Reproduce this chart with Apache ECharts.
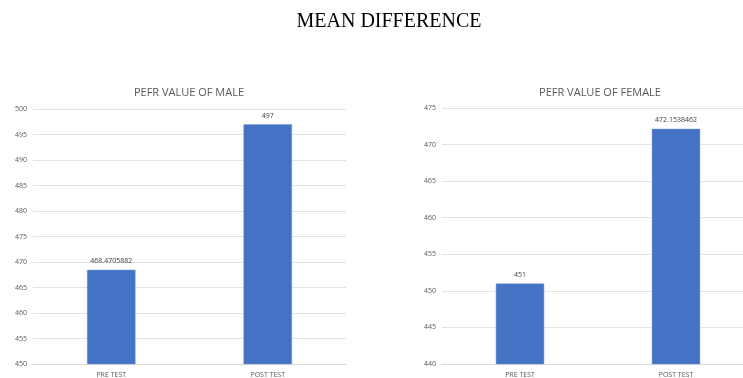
<!DOCTYPE html>
<html>
<head>
<meta charset="utf-8">
<script src="https://cdn.jsdelivr.net/npm/echarts@6/dist/echarts.min.js"></script>
<style>
  html, body { margin: 0; padding: 0; background: #fff; overflow: hidden; }
  /* canvas a bit wider than the window: the right plot runs past the edge in the original */
  #chart { width: 760px; height: 378px; }
</style>
</head>
<body>
<div id="chart"></div>
<script>
var categories = ['PRE TEST', 'POST TEST']
var maleValues = [468.4705882, 497]
var femaleValues = [451, 472.1538462]
var maleAxis = { min: 450, max: 500, interval: 5 }
var femaleAxis = { min: 440, max: 475, interval: 5 }

var grey = '#595959'
var barColor = '#4472C4'

function xAxisFor (idx) {
  return {
    type: 'category',
    gridIndex: idx,
    data: categories,
    axisLine: { lineStyle: { color: '#d9d9d9' } },
    axisTick: { show: false },
    axisLabel: { color: grey, fontSize: 7, fontFamily: 'Open Sans', margin: 7 }
  }
}

function yAxisFor (idx, range) {
  return {
    type: 'value',
    gridIndex: idx,
    min: range.min,
    max: range.max,
    interval: range.interval,
    axisLine: { show: false },
    axisTick: { show: false },
    splitLine: { lineStyle: { color: '#e3e3e3' } },
    axisLabel: { color: grey, fontSize: 7, fontFamily: 'Open Sans', margin: 6 }
  }
}

function barSeries (idx, values) {
  return {
    type: 'bar',
    xAxisIndex: idx,
    yAxisIndex: idx,
    data: values,
    barWidth: '31%',
    itemStyle: { color: barColor, borderColor: '#7a9bd6', borderWidth: 0.5 },
    label: {
      show: true,
      position: 'top',
      distance: 5,
      color: '#404040',
      fontSize: 7,
      fontFamily: 'Open Sans'
    }
  }
}

var chart = echarts.init(document.getElementById('chart'))
chart.setOption({
  animation: false,
  title: [
    {
      text: 'MEAN DIFFERENCE',
      left: 384,
      top: 7,
      textAlign: 'center',
      textStyle: { fontFamily: 'Liberation Serif', fontSize: 20, fontWeight: 'normal', color: '#000' }
    },
    {
      text: 'PEFR VALUE OF MALE',
      left: 184,
      top: 82,
      textAlign: 'center',
      textStyle: { fontFamily: 'Open Sans', fontSize: 11, fontWeight: 'normal', color: grey }
    },
    {
      text: 'PEFR VALUE OF FEMALE',
      left: 595,
      top: 82,
      textAlign: 'center',
      textStyle: { fontFamily: 'Open Sans', fontSize: 11, fontWeight: 'normal', color: grey }
    }
  ],
  grid: [
    { left: 33, width: 313, top: 109, bottom: 13 },
    { left: 442, width: 312, top: 108, bottom: 14 }
  ],
  xAxis: [xAxisFor(0), xAxisFor(1)],
  yAxis: [yAxisFor(0, maleAxis), yAxisFor(1, femaleAxis)],
  series: [barSeries(0, maleValues), barSeries(1, femaleValues)]
})
</script>
</body>
</html>
